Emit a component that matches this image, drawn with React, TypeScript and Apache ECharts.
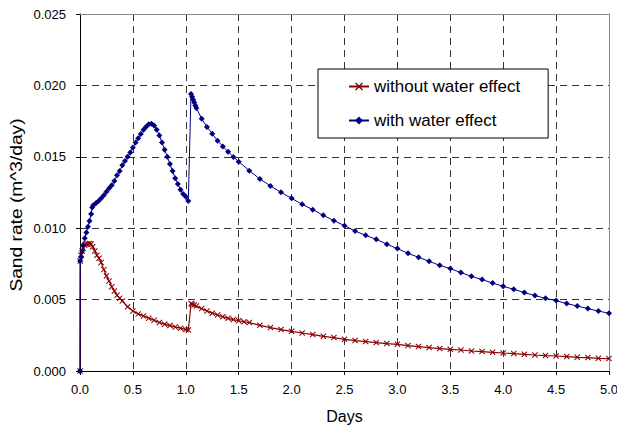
import React, { useEffect, useRef } from "react";
import * as echarts from "echarts";

const xTicks = ["0.0", "0.5", "1.0", "1.5", "2.0", "2.5", "3.0", "3.5", "4.0", "4.5", "5.0"];
const yTicks = ["0.000", "0.005", "0.010", "0.015", "0.020", "0.025"];

const seriesNames = ["without water effect", "with water effect"];
const xTitle = "Days";
const yTitle = "Sand rate (m^3/day)";

const daysWith = [
  0, 0.002, 0.01, 0.02, 0.03, 0.045, 0.06, 0.075, 0.09, 0.105, 0.115, 0.125, 0.15, 0.175, 0.2, 0.225, 0.25,
  0.275, 0.3, 0.325, 0.35, 0.375, 0.4, 0.425, 0.45, 0.475, 0.5, 0.525, 0.55, 0.575, 0.6, 0.625, 0.65, 0.675,
  0.7, 0.725, 0.75, 0.775, 0.8, 0.825, 0.85, 0.875, 0.9, 0.925, 0.95, 0.975, 1.0, 1.024,
  1.049, 1.06, 1.07, 1.08, 1.09, 1.1, 1.15, 1.2, 1.25, 1.3, 1.35, 1.4, 1.45, 1.5, 1.6, 1.7, 1.8, 1.9, 2.0,
  2.1, 2.2, 2.3, 2.4, 2.5, 2.6, 2.7, 2.8, 2.9, 3.0, 3.1, 3.2, 3.3, 3.4, 3.5, 3.6, 3.7, 3.8, 3.9, 4.0, 4.1,
  4.2, 4.3, 4.4, 4.5, 4.6, 4.7, 4.8, 4.9, 5.0,
];
const rateWith = [
  0, 0.0077, 0.008, 0.0084, 0.0088, 0.0093, 0.0097, 0.0101, 0.0105, 0.011, 0.01145, 0.0116, 0.01175, 0.0119,
  0.0121, 0.0123, 0.01255, 0.0128, 0.013, 0.0133, 0.0137, 0.014, 0.0144, 0.0147, 0.015, 0.0153, 0.01565,
  0.016, 0.0163, 0.0166, 0.0169, 0.0171, 0.01728, 0.01732, 0.0172, 0.0169, 0.0165, 0.016, 0.0155, 0.015,
  0.0145, 0.014, 0.0135, 0.0131, 0.0127, 0.0124, 0.0122, 0.0119,
  0.0194, 0.0192, 0.019, 0.0188, 0.0186, 0.01842, 0.01767, 0.01709, 0.01662, 0.01613, 0.01573, 0.01536,
  0.01499, 0.01466, 0.01403, 0.01345, 0.01296, 0.01251, 0.01209, 0.01167, 0.0113, 0.0109, 0.01053, 0.01018,
  0.0098, 0.0095, 0.00922, 0.00888, 0.00857, 0.00824, 0.00796, 0.00768, 0.0074, 0.00717, 0.00689, 0.00663,
  0.0064, 0.00616, 0.00593, 0.00572, 0.00549, 0.00528, 0.00509, 0.00493, 0.00472, 0.00455, 0.00437, 0.0042,
  0.00404,
];

const daysWithout = [
  0, 0.002, 0.01, 0.02, 0.03, 0.045, 0.06, 0.075, 0.09, 0.105, 0.12, 0.14, 0.16, 0.18, 0.2, 0.225, 0.25,
  0.275, 0.3, 0.325, 0.35, 0.375, 0.4, 0.45, 0.5, 0.55, 0.6, 0.65, 0.7, 0.75, 0.8, 0.85, 0.9, 0.95, 1.0, 1.024,
  1.05, 1.06, 1.08, 1.1, 1.15, 1.2, 1.25, 1.3, 1.35, 1.4, 1.45, 1.5, 1.55, 1.6, 1.7, 1.8, 1.9, 2.0, 2.1, 2.2,
  2.3, 2.4, 2.5, 2.6, 2.7, 2.8, 2.9, 3.0, 3.1, 3.2, 3.3, 3.4, 3.5, 3.6, 3.7, 3.8, 3.9, 4.0, 4.1, 4.2, 4.3,
  4.4, 4.5, 4.6, 4.7, 4.8, 4.9, 5.0,
];
const rateWithout = [
  0, 0.0077, 0.0081, 0.0084, 0.0086, 0.0088, 0.00888, 0.0089, 0.00893, 0.0089, 0.0087, 0.0084, 0.0081,
  0.0079, 0.0076, 0.0071, 0.00665, 0.0063, 0.0059, 0.0056, 0.0053, 0.0051, 0.0049, 0.0045, 0.0042, 0.004,
  0.00385, 0.0037, 0.00355, 0.0034, 0.00328, 0.00318, 0.00308, 0.003, 0.0029, 0.00287,
  0.00472, 0.00468, 0.00462, 0.00455, 0.00437, 0.0042, 0.00405, 0.00392, 0.0038, 0.00369, 0.0036, 0.00352,
  0.00345, 0.00339, 0.0032, 0.00304, 0.0029, 0.00278, 0.00266, 0.00255, 0.00243, 0.00234, 0.00222, 0.00213,
  0.00206, 0.00199, 0.00192, 0.00187, 0.00178, 0.00171, 0.00164, 0.00157, 0.00152, 0.00147, 0.0014, 0.00136,
  0.00131, 0.00126, 0.00122, 0.00117, 0.00112, 0.00108, 0.00105, 0.00101, 0.00096, 0.00094, 0.00089,
  0.00087,
];

const FONT = "'Liberation Sans', Arial, sans-serif";
const CROSS =
  "path://M0,1.2L1.2,0L5,3.8L8.8,0L10,1.2L6.2,5L10,8.8L8.8,10L5,6.2L1.2,10L0,8.8L3.8,5Z";

export default function App() {
  const ref = useRef<HTMLDivElement>(null);
  useEffect(() => {
    if (!ref.current) return;
    const chart = echarts.init(ref.current, undefined, { renderer: "svg" });
    const pairs = (xs: number[], ys: number[]) => xs.map((x, i) => [x, ys[i]]);
    const xMin = parseFloat(xTicks[0]);
    const xMax = parseFloat(xTicks[xTicks.length - 1]);
    const yMin = parseFloat(yTicks[0]);
    const yMax = parseFloat(yTicks[yTicks.length - 1]);
    const dash = { color: "#333", width: 1, type: [7, 5] as any };
    chart.setOption({
      animation: false,
      backgroundColor: "#fff",
      textStyle: { fontFamily: FONT, color: "#000" },
      grid: {
        left: 80,
        right: 8,
        top: 14,
        bottom: 54,
        show: false,
        containLabel: false,
        outerBoundsMode: "none",
      },
      graphic: [
        {
          type: "text",
          x: 17,
          y: 205,
          rotation: Math.PI / 2,
          scaleX: 1.2,
          scaleY: 1,
          style: {
            text: yTitle,
            font: `16px ${FONT}`,
            fill: "#000",
            align: "center",
            verticalAlign: "middle",
          },
        },
      ],
      legend: {
        data: seriesNames,
        orient: "vertical",
        left: 318,
        top: 69,
        padding: [9, 28, 9, 30],
        itemWidth: 20,
        itemHeight: 10,
        itemGap: 17,
        backgroundColor: "#fff",
        borderColor: "#000",
        borderWidth: 1,
        textStyle: { fontFamily: FONT, fontSize: 17, color: "#000", lineHeight: 17 },
      },
      xAxis: [
        {
          type: "value",
          min: xMin,
          max: xMax,
          interval: 0.5,
          name: xTitle,
          nameLocation: "middle",
          nameGap: 37,
          nameTextStyle: { fontFamily: FONT, fontSize: 16, color: "#000" },
          axisLine: { show: true, onZero: false, lineStyle: { color: "#000", width: 1 } },
          axisTick: { show: true, length: 4, lineStyle: { color: "#000" } },
          axisLabel: {
            fontFamily: FONT,
            fontSize: 13,
            color: "#000",
            margin: 12,
            formatter: (v: number) => v.toFixed(1),
          },
          splitLine: { show: true, lineStyle: dash },
        },
        {
          type: "value",
          position: "top",
          min: xMin,
          max: xMax,
          interval: 0.5,
          axisLine: { show: true, onZero: false, lineStyle: { color: "#888", width: 1 } },
          axisTick: { show: false },
          axisLabel: { show: false },
          splitLine: { show: false },
        },
      ],
      yAxis: [
        {
          type: "value",
          min: yMin,
          max: yMax,
          interval: 0.005,
          axisLine: { show: true, onZero: false, lineStyle: { color: "#000", width: 1 } },
          axisTick: { show: true, length: 4, lineStyle: { color: "#000" } },
          axisLabel: {
            fontFamily: FONT,
            fontSize: 13,
            color: "#000",
            margin: 14,
            formatter: (v: number) => v.toFixed(3),
          },
          splitLine: { show: true, lineStyle: dash },
        },
        {
          type: "value",
          position: "right",
          min: yMin,
          max: yMax,
          interval: 0.005,
          axisLine: { show: true, onZero: false, lineStyle: { color: "#888", width: 1 } },
          axisTick: { show: false },
          axisLabel: { show: false },
          splitLine: { show: false },
        },
      ],
      series: [
        {
          name: seriesNames[0],
          type: "line",
          data: pairs(daysWithout, rateWithout),
          symbol: CROSS,
          symbolSize: 6,
          showAllSymbol: true,
          lineStyle: { color: "#8b0000", width: 1.2 },
          itemStyle: { color: "#8b0000" },
          emphasis: { disabled: true },
        },
        {
          name: seriesNames[1],
          type: "line",
          data: pairs(daysWith, rateWith),
          symbol: "diamond",
          symbolSize: 6,
          showAllSymbol: true,
          lineStyle: { color: "#000080", width: 1 },
          itemStyle: { color: "#000080" },
          emphasis: { disabled: true },
        },
      ],
    });
    return () => chart.dispose();
  }, []);
  return (
    <div
      ref={ref}
      style={{ position: "fixed", left: 0, top: 0, width: 617, height: 425, background: "#fff" }}
    />
  );
}
